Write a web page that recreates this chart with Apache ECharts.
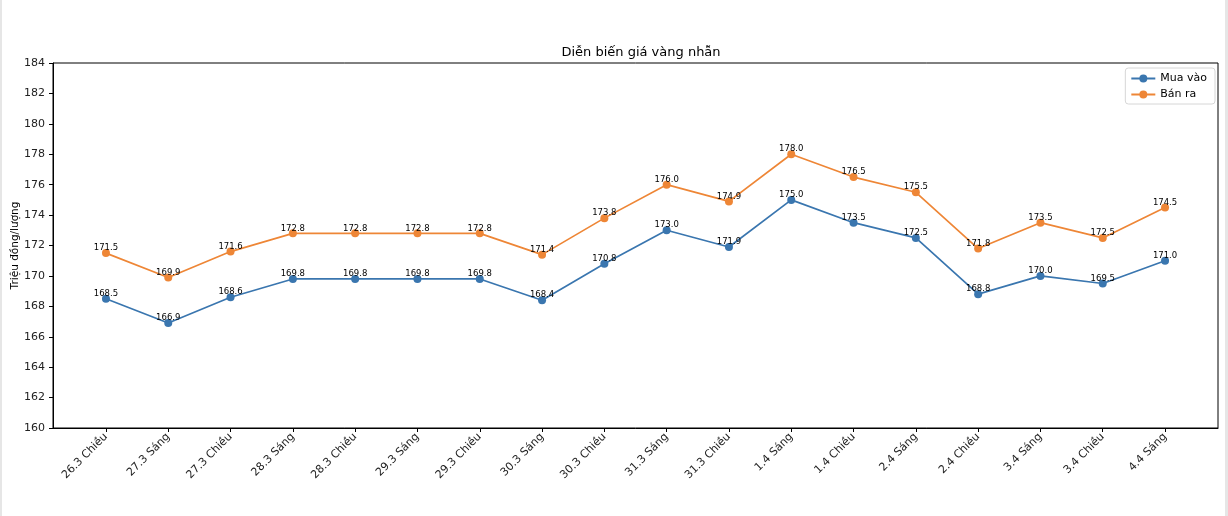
<!DOCTYPE html>
<html>
<head>
<meta charset="utf-8">
<script src="https://cdn.jsdelivr.net/npm/echarts@6/dist/echarts.min.js"></script>
<style>
html,body{margin:0;padding:0;background:#fff;}
#frameL{position:absolute;left:0;top:0;width:2px;height:516px;background:#e6e6e6;}
#frameR{position:absolute;left:1225px;top:0;width:3px;height:516px;background:#e6e6e6;}
#chart{position:absolute;left:0;top:0;width:1228px;height:516px;}
</style>
</head>
<body>
<div id="chart"></div>
<div id="frameL"></div>
<div id="frameR"></div>
<script>
const categories = ["26.3 Chiều","27.3 Sáng","27.3 Chiều","28.3 Sáng","28.3 Chiều","29.3 Sáng","29.3 Chiều","30.3 Sáng","30.3 Chiều","31.3 Sáng","31.3 Chiều","1.4 Sáng","1.4 Chiều","2.4 Sáng","2.4 Chiều","3.4 Sáng","3.4 Chiều","4.4 Sáng"];
const muaVao = [168.5,166.9,168.6,169.8,169.8,169.8,169.8,168.4,170.8,173.0,171.9,175.0,173.5,172.5,168.8,170.0,169.5,171.0];
const banRa = [171.5,169.9,171.6,172.8,172.8,172.8,172.8,171.4,173.8,176.0,174.9,178.0,176.5,175.5,171.8,173.5,172.5,174.5];
const yTicks = [160,162,164,166,168,170,172,174,176,178,180,182,184];

const font = "DejaVu Sans";
const idx = categories.map((c,i)=>i);
function pairs(arr){ return arr.map((v,i)=>[i,v]); }
const legendIcon = 'path://M0,4.1H24V5.9H0Z M8,5A4,4,0,1,1,16,5A4,4,0,1,1,8,5Z';

const chart = echarts.init(document.getElementById('chart'));
function mkSeries(name, data, color){
  return {
    name: name, type: 'line', data: pairs(data),
    symbol: 'circle', symbolSize: 8,
    lineStyle: {color: color, width: 1.7},
    itemStyle: {color: color},
    label: {show: true, position: 'inside', offset: [0,-5], color: '#000',
      fontFamily: font, fontSize: 8.5,
      formatter: p => p.value[1].toFixed(1)},
    emphasis: {disabled: true},
    animation: false
  };
}
chart.setOption({
  animation: false,
  title: {text: 'Diễn biến giá vàng nhẫn', left: 636, textAlign: 'center', top: 41,
    textStyle: {fontFamily: font, fontSize: 13, fontWeight: 'normal', color: '#000'}},
  grid: {left: 53, right: 10, top: 63, bottom: 88, containLabel: false, outerBoundsMode: 'none',
    show: true, borderColor: '#000', borderWidth: 1},
  legend: {right: 13, top: 68, orient: 'vertical', itemWidth: 24, itemHeight: 10, itemGap: 5,
    padding: [5,8,4,6], borderColor: '#d6d6d6', borderWidth: 1, borderRadius: 3, backgroundColor: 'rgba(255,255,255,0.8)',
    textStyle: {fontFamily: font, fontSize: 11, color: '#000'},
    data: [{name:'Mua vào', icon: legendIcon}, {name:'Bán ra', icon: legendIcon}]},
  xAxis: {type: 'value', min: -0.85, max: 17.85,
    splitLine: {show: false},
    axisLine: {show: true, onZero: false, lineStyle: {color: '#000', width: 1}},
    axisTick: {show: true, length: 4, customValues: idx, lineStyle: {color: '#000'}},
    axisLabel: {customValues: idx, rotate: 45, fontFamily: font, fontSize: 11, color: '#222', margin: 7,
      formatter: v => categories[Math.round(v)]}},
  yAxis: {type: 'value', min: 160, max: 184, interval: 2,
    name: 'Triệu đồng/lượng', nameLocation: 'middle', nameGap: 32, nameRotate: 90, nameMoveOverlap: false,
    nameTextStyle: {fontFamily: font, fontSize: 10.5, color: '#000'},
    splitLine: {show: false},
    axisLine: {show: true, onZero: false, lineStyle: {color: '#000', width: 1}},
    axisTick: {show: true, length: 4, customValues: yTicks, lineStyle: {color: '#000'}},
    axisLabel: {customValues: yTicks, fontFamily: font, fontSize: 11, color: '#222', margin: 8}},
  series: [mkSeries('Mua vào', muaVao, '#3a76af'), mkSeries('Bán ra', banRa, '#ee8636')]
});
</script>
</body>
</html>
